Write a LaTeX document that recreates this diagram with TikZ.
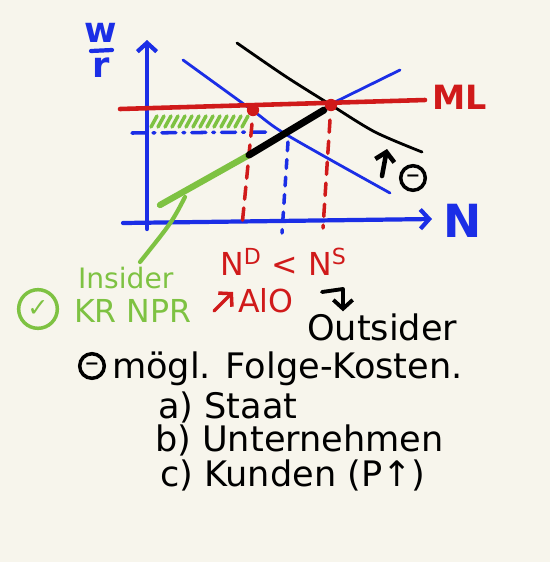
\documentclass[tikz,border=0pt]{standalone}
\usepackage{fontspec}
\setmainfont{DejaVu Sans}
\usetikzlibrary{arrows.meta}
\definecolor{paper}{HTML}{F7F5EC}
\definecolor{pen-blue}{HTML}{1B2EE6}
\definecolor{pen-red}{HTML}{D01A1A}
\definecolor{pen-green}{HTML}{7EC242}

\begin{document}
\begin{tikzpicture}[x=0.02cm, y=-0.02cm, line cap=round, line join=round,
    every node/.style={inner sep=1pt},
    barb/.style={-{Straight Barb[length=5pt,width=11pt]}},
    axis/.style={pen-blue, line width=2.4pt, barb},
    dotpt/.style={circle, fill=pen-red, inner sep=0pt, minimum size=7pt},
    hand/.style={font=\fontsize{20}{24}\selectfont, anchor=west},
    ringed/.style={circle, draw, line width=2pt, inner sep=0pt, minimum size=14pt}]
    \fill[paper] (0,0) rectangle (550,562);
    % axes
    \coordinate (yfoot) at (147,229);
    \coordinate (ytop) at (147,40);
    \coordinate (xfoot) at (123,223);
    \coordinate (xend) at (432,219);
    \draw[axis] (yfoot) -- (ytop);
    \draw[axis] (xfoot) -- (xend);
    \node[pen-blue, font=\fontsize{20}{22}\selectfont\bfseries] (wlab) at (101,33) {w};
    \node[pen-blue, font=\fontsize{20}{22}\selectfont\bfseries] (rlab) at (101,68) {r};
    \draw[pen-blue, line width=2.4pt] (91,51) -- (112,50);
    \node[pen-blue, font=\fontsize{26}{28}\selectfont\bfseries] (Nlab) at (463,221) {N};
    % curves
    \draw[pen-blue, line width=1.6pt] plot[smooth] coordinates
        {(183,60) (252,110) (287,135) (390,193)};
    \draw[pen-blue, line width=1.6pt] (331,104) -- (400,70);
    \draw[line width=1.6pt] plot[smooth] coordinates
        {(237,43) (285,76) (331,105) (375,132) (422,152)};
    \coordinate (mlA) at (120,109);
    \coordinate (mlB) at (425,100);
    \draw[pen-red, line width=2.6pt] (mlA) -- (mlB);
    \node[pen-red, font=\fontsize{19}{22}\selectfont\bfseries] (ML) at (460,97) {ML};
    % guide lines
    \draw[pen-green, line width=2pt] foreach \i in {0,...,13} {({151+7*\i},127) -- ({157+7*\i},116)};
    \draw[pen-blue, line width=2pt, dash pattern=on 8pt off 4pt on 1pt off 4pt] (132,133) -- (270,132);
    \draw[pen-blue, line width=2pt, dash pattern=on 5pt off 5pt] (288,142) -- (282,233);
    \draw[pen-red, line width=2pt, dash pattern=on 7pt off 5pt] (252,124) -- (242,226);
    \draw[pen-red, line width=2pt, dash pattern=on 7pt off 5pt] (330,120) -- (323,228);
    % insider wage segment
    \coordinate (gLow) at (160,205);
    \coordinate (gKink) at (249,155);
    \coordinate (gTop) at (324,110);
    \draw[pen-green, line width=3.6pt] (gLow) -- (gKink);
    \draw[line width=4pt] (gKink) -- (gTop);
    \coordinate (gBr) at (185,197);
    \coordinate (gEnd) at (140,262);
    \draw[pen-green, line width=2.4pt] (gBr) .. controls (172,222) .. (gEnd);
    \node[dotpt] (dotL) at (253,110) {};
    \node[dotpt] (dotR) at (331,105) {};
    % shift marker
    \coordinate (upFoot) at (382,176);
    \coordinate (upHead) at (387,149);
    \draw[line width=2.6pt, barb] (upFoot) -- (upHead);
    \node[ringed] (minusA) at (413,178) {\bfseries −};
    % notes
    \node[hand, pen-green, font=\fontsize{16}{20}\selectfont] (insider) at (76,278) {Insider};
    \node[ringed, draw=pen-green, minimum size=22pt, text=pen-green] (check) at (38,309) {\Large ✓};
    \node[hand, pen-green, font=\fontsize{18}{22}\selectfont] (kr) at (72,311) {KR NPR};
    \node[hand, pen-red, font=\fontsize{18}{22}\selectfont] (ndns) at (218,262) {N\textsuperscript{D} < N\textsuperscript{S}};
    \coordinate (riseA) at (214,311);
    \coordinate (riseB) at (233,292);
    \draw[pen-red, line width=2pt, barb] (riseA) -- (riseB);
    \node[hand, pen-red, font=\fontsize{18}{22}\selectfont] (alo) at (236,301) {AlO};
    \node[hand] (outsider) at (305,327) {Outsider};
    \coordinate (hookA) at (322,292);
    \coordinate (hookB) at (343,289);
    \draw[line width=2.2pt, barb] (hookA) -- (hookB) -- (outsider.north -| hookB);
    \node[ringed] (minusB) at (92,366) {\bfseries −};
    \node[hand] (folge) at (110,369) {mögl. Folge-Kosten.};
    \node[hand] (staat) at (156,407) {a) Staat};
    \node[hand] (unter) at (153,440) {b) Unternehmen};
    \node[hand] (kunden) at (158,475) {c) Kunden (P↑)};
\end{tikzpicture}
\end{document}
